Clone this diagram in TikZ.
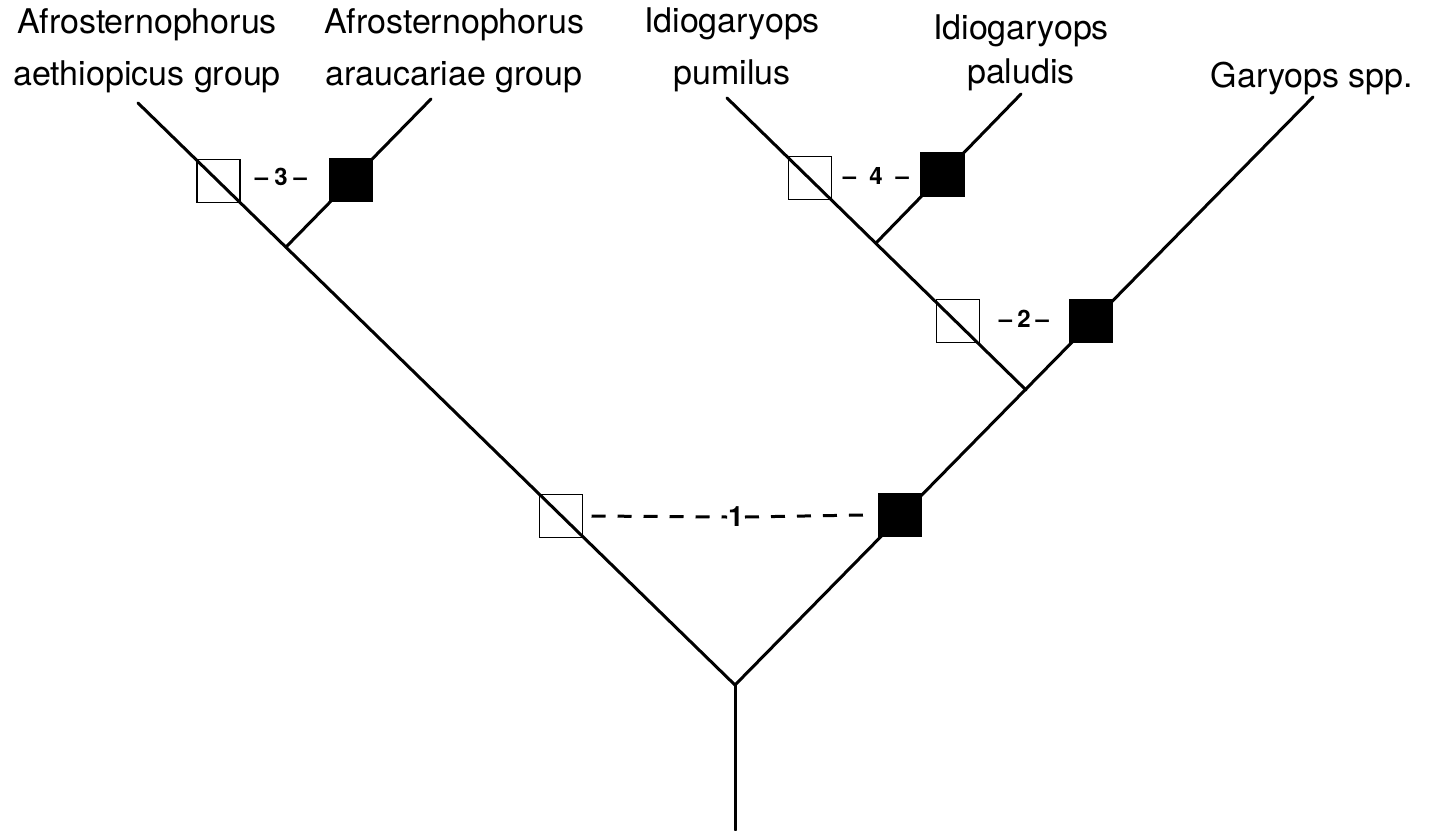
\documentclass[tikz,border=0pt]{standalone}
\usepackage{fontspec}
\setmainfont{TeX Gyre Heros}
\begin{document}
\begin{tikzpicture}[x=1pt,y=-1pt,
  branch/.style={line width=3pt, line cap=round},
  openbox/.style={draw, line width=1.6pt, minimum size=43pt, inner sep=0pt, outer sep=0pt},
  fullbox/.style={openbox, fill=black},
  taxon/.style={font=\fontsize{34}{52}\selectfont, align=center, inner sep=0pt, anchor=north},
  steplabel/.style={font=\fontsize{24}{28}\selectfont\bfseries, inner sep=1pt},
  dashline/.style={line width=3pt, dash pattern=on 14pt off 12pt}]
\useasboundingbox (0,0) rectangle (1442,830);
\fill[white] (0,0) rectangle (1442,830);
% coordinates
\coordinate (bottom) at (735,830);
\coordinate (R) at (735,685);
\coordinate (LT) at (138,103);
\coordinate (AT) at (431,99);
\coordinate (PT) at (727,98);
\coordinate (DT) at (1021,94);
\coordinate (GT) at (1313,97);
\coordinate (J3) at (286,247);
\coordinate (J2) at (1026,390);
\coordinate (J4) at (877,242);
% branches
\draw[branch] (bottom) -- (R);
\draw[branch] (R) -- (LT);
\draw[branch] (R) -- (GT);
\draw[branch] (J3) -- (AT);
\draw[branch] (J2) -- (PT);
\draw[branch] (J4) -- (DT);
% character boxes
\node[openbox] (O3) at (218.5,181) {};
\node[fullbox] (F3) at (351,180) {};
\node[openbox] (O4) at (810,178) {};
\node[fullbox] (F4) at (942.5,174.5) {};
\node[openbox] (O2) at (958,321) {};
\node[fullbox] (F2) at (1091,321) {};
\node[openbox] (O1) at (561,516) {};
\node[fullbox] (F1) at (900,515) {};
% step labels
\node[steplabel] (s3) at (281,177) {–\hspace{6pt}3\hspace{6pt}–};
\node[steplabel] (s4) at (876,176) {–\hspace{13pt}4\hspace{13pt}–};
\node[steplabel] (s2) at (1024,319) {–\hspace{5pt}2\hspace{5pt}–};
\node[font=\fontsize{28}{30}\selectfont\bfseries, inner sep=1pt] (one) at (736,517) {1};
\draw[dashline] ([xshift=9pt]O1.east) -- (one.west);
\draw[dashline] (one.east) -- ([xshift=-15pt]F1.west);
% taxa
\node[taxon] (t1) at (147,8) {Afrosternophorus\\aethiopicus group};
\node[taxon] (t2) at (454,8) {Afrosternophorus\\araucariae group};
\node[taxon] (t3) at (732,8) {Idiogaryops\\pumilus};
\node[taxon, font=\fontsize{34}{44}\selectfont] (t4) at (1021,15) {Idiogaryops\\paludis};
\node[taxon] (t5) at (1312,62) {Garyops spp.};
\end{tikzpicture}
\end{document}
